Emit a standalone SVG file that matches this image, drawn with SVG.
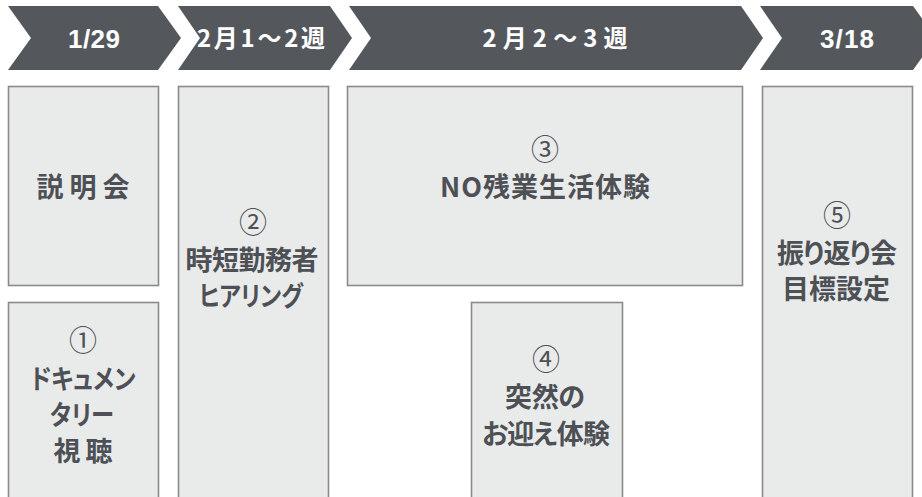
<svg xmlns="http://www.w3.org/2000/svg" width="922" height="497" viewBox="0 0 922 497">
<style>
.chev{fill:#54575c}
.ct{fill:#ffffff;font-family:"Liberation Sans","Noto Sans CJK JP",sans-serif;font-weight:bold;font-size:26px;text-anchor:middle}
.cj{font-family:"Noto Sans CJK JP","Liberation Sans",sans-serif;font-size:24px}
.box{fill:#e9eaea;stroke:#8a8a8a;stroke-width:1.6}
.bt{fill:#4d5055;font-family:"Noto Sans CJK JP","Liberation Sans",sans-serif;font-weight:bold;font-size:27px;text-anchor:middle;font-feature-settings:"palt"}
.num{fill:#4d5055;font-family:"Noto Sans CJK JP",sans-serif;font-weight:normal;font-size:28px;text-anchor:middle}
</style>
<rect width="922" height="497" fill="#ffffff"/>
<g id="phases">
<g id="phase1"><polygon class="chev" points="8,6 158,6 181,38 158,70 8,70 31,38"/><text class="ct" x="94" y="48" textLength="52">1/29</text></g>
<g id="phase2"><polygon class="chev" points="178,6 330,6 352,38 330,70 178,70 200,38"/><text class="ct cj" x="261" y="47" textLength="128">2月1〜2週</text></g>
<g id="phase3"><polygon class="chev" points="349,6 741,6 763,38 741,70 349,70 371,38"/><text class="ct cj" x="555" y="47" textLength="145">2月2〜3週</text></g>
<g id="phase4"><polygon class="chev" points="760,6 913,6 936,38 913,70 760,70 782,38"/><text class="ct" x="847" y="48" textLength="54">3/18</text></g>
</g>
<g id="connectors"></g>
<g id="node-setsumeikai">
<rect class="box" x="8.5" y="86.5" width="150" height="199"/>
<text class="bt" x="83" y="197" textLength="93">説明会</text>
</g>
<g id="node-1">
<rect class="box" x="8.5" y="302.5" width="150" height="200"/>
<text class="num" x="83" y="351">①</text>
<text class="bt" x="83" y="389" textLength="105" lengthAdjust="spacingAndGlyphs">ドキュメン</text>
<text class="bt" x="82" y="425" textLength="64" lengthAdjust="spacingAndGlyphs">タリー</text>
<text class="bt" x="83" y="461" textLength="59">視聴</text>
</g>
<g id="node-2">
<rect class="box" x="178.5" y="86.5" width="150" height="420"/>
<text class="num" x="253" y="233">②</text>
<text class="bt" x="252" y="270" textLength="133">時短勤務者</text>
<text class="bt" x="251" y="306" textLength="104" lengthAdjust="spacingAndGlyphs">ヒアリング</text>
</g>
<g id="node-3">
<rect class="box" x="347.5" y="86.5" width="395" height="199"/>
<text class="num" x="545" y="160">③</text>
<text class="bt" x="545" y="197" textLength="210">NO残業生活体験</text>
</g>
<g id="node-4">
<rect class="box" x="471.5" y="302.5" width="151" height="200"/>
<text class="num" x="546" y="370">④</text>
<text class="bt" x="545" y="407" textLength="80">突然の</text>
<text class="bt" x="546" y="444" textLength="128">お迎え体験</text>
</g>
<g id="node-5">
<rect class="box" x="762.5" y="86.5" width="150" height="420"/>
<text class="num" x="837" y="226">⑤</text>
<text class="bt" x="837" y="263" textLength="120">振り返り会</text>
<text class="bt" x="836" y="299" textLength="108">目標設定</text>
</g>
</svg>
